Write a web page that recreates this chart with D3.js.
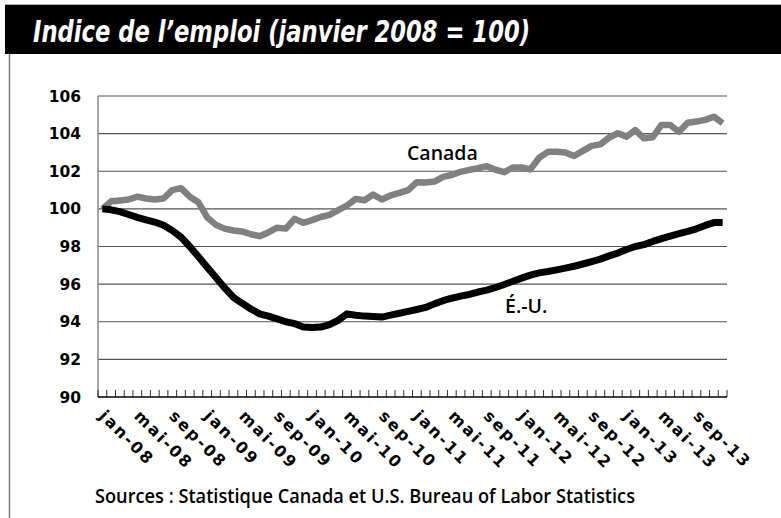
<!DOCTYPE html>
<html lang="fr">
<head>
  <meta charset="UTF-8">
  <title>Indice de l'emploi</title>
  <script src="https://d3js.org/d3.v7.min.js"></script>
  <style>
    body { margin: 0; background: #fff; }
    svg { display: block; }
    .ylab { font-family: "DejaVu Sans", sans-serif; font-weight: bold; font-size: 15.5px; }
    .xlab { font-family: "DejaVu Sans", sans-serif; font-weight: bold; font-size: 16px; letter-spacing: 2.2px; }
    .serie { font-family: "Open Sans", sans-serif; font-weight: 600; font-size: 19.5px; }
  </style>
</head>
<body>
  <svg width="781" height="518"></svg>

  <script>
    // mois de janvier 2008 à décembre 2013
    const moisNoms = ['jan', 'fév', 'mar', 'avr', 'mai', 'jun', 'jul', 'aoû', 'sep', 'oct', 'nov', 'déc'];
    const annees = ['08', '09', '10', '11', '12', '13'];
    const mois = annees.flatMap(a => moisNoms.map(m => m + '-' + a));

    const canada = [
      100.0, 100.4, 100.45, 100.5, 100.65, 100.55, 100.5, 100.55, 101.0, 101.1, 100.65, 100.35,
      99.55, 99.15, 98.95, 98.85, 98.8, 98.65, 98.55, 98.75, 99.0, 98.95, 99.47, 99.26,
      99.4, 99.57, 99.68, 99.93, 100.18, 100.53, 100.46, 100.76, 100.5, 100.72, 100.85, 101.0,
      101.42, 101.4, 101.45, 101.7, 101.8, 101.97, 102.07, 102.16, 102.27, 102.08, 101.95, 102.2,
      102.2, 102.1, 102.72, 103.03, 103.04, 103.0, 102.81, 103.08, 103.35, 103.43, 103.79, 104.02,
      103.84, 104.19, 103.75, 103.81, 104.46, 104.46, 104.1, 104.58, 104.64, 104.73, 104.9, 104.55
    ];

    const eu = [
      100.0, 99.95, 99.85, 99.7, 99.55, 99.42, 99.3, 99.13, 98.85, 98.5, 98.0, 97.45,
      96.9, 96.35, 95.8, 95.3, 94.98, 94.68, 94.42, 94.3, 94.15, 94.0, 93.9, 93.72,
      93.7, 93.72, 93.85, 94.08, 94.42, 94.35, 94.3, 94.28, 94.25, 94.35, 94.45, 94.55,
      94.65, 94.76, 94.95, 95.12, 95.25, 95.36, 95.45, 95.58, 95.68, 95.82, 95.98, 96.15,
      96.32, 96.48, 96.6, 96.67, 96.76, 96.85, 96.95, 97.07, 97.2, 97.33, 97.5, 97.65,
      97.84, 98.0, 98.1, 98.27, 98.42, 98.55, 98.68, 98.8, 98.94, 99.12, 99.27, 99.28
    ];

    const yTicks = [90, 92, 94, 96, 98, 100, 102, 104, 106];

    const svg = d3.select('svg');

    // cadre et bandeau du titre
    svg.append('line')
      .attr('x1', 9.5).attr('x2', 9.5).attr('y1', 53).attr('y2', 518)
      .attr('stroke', '#777').attr('stroke-width', 1.5);
    svg.append('line')
      .attr('x1', 5).attr('x2', 781).attr('y1', 4.5).attr('y2', 4.5)
      .attr('stroke', '#aaa').attr('stroke-width', 1);
    svg.append('rect')
      .attr('x', 5).attr('y', 5).attr('width', 776).attr('height', 49)
      .attr('fill', '#000');
    svg.append('text')
      .attr('x', 33).attr('y', 42)
      .attr('fill', '#fff')
      .attr('font-family', '"Liberation Sans Narrow", "DejaVu Sans Condensed", sans-serif')
      .attr('font-weight', 'bold').attr('font-style', 'italic').attr('font-size', 31)
      .attr('textLength', 497).attr('lengthAdjust', 'spacingAndGlyphs')
      .text('Indice de l\u2019emploi (janvier 2008 = 100)');

    // échelles : une bande par mois, ticks entre les catégories
    const x = d3.scaleLinear().domain([0, mois.length]).range([98, 727]);
    const y = d3.scaleLinear().domain([90, 106]).range([397, 96]);

    // quadrillage
    svg.append('g')
      .selectAll('line')
      .data(yTicks.filter(v => v > 90))
      .join('line')
      .attr('x1', x(0)).attr('x2', x(mois.length))
      .attr('y1', d => y(d)).attr('y2', d => y(d))
      .attr('stroke', '#555').attr('stroke-width', 1.2);

    // axe vertical
    svg.append('line')
      .attr('x1', x(0)).attr('x2', x(0)).attr('y1', y(106)).attr('y2', y(90))
      .attr('stroke', '#888').attr('stroke-width', 1.5);

    svg.append('g')
      .selectAll('text')
      .data(yTicks)
      .join('text')
      .attr('class', 'ylab')
      .attr('x', 81)
      .attr('y', d => y(d) + 5.5)
      .attr('text-anchor', 'end')
      .text(d => d);

    // axe horizontal avec ticks vers le haut
    svg.append('g')
      .selectAll('line')
      .data(d3.range(mois.length + 1))
      .join('line')
      .attr('x1', d => x(d)).attr('x2', d => x(d))
      .attr('y1', y(90)).attr('y2', y(90) - 7)
      .attr('stroke', '#333').attr('stroke-width', 1);
    svg.append('line')
      .attr('x1', x(0)).attr('x2', x(mois.length)).attr('y1', y(90)).attr('y2', y(90))
      .attr('stroke', '#000').attr('stroke-width', 1.5);

    svg.append('g')
      .selectAll('text')
      .data(mois.map((m, i) => ({ m, i })).filter(d => d.i % 4 === 0))
      .join('text')
      .attr('class', 'xlab')
      .attr('transform', d => `translate(${x(d.i + 0.5) - 4},417) rotate(45)`)
      .text(d => d.m);

    // séries
    const line = d3.line()
      .x((d, i) => x(i + 0.5))
      .y(d => y(d));

    svg.append('path')
      .datum(canada)
      .attr('d', line)
      .attr('fill', 'none')
      .attr('stroke', '#808080')
      .attr('stroke-width', 6.5)
      .attr('stroke-linejoin', 'round');

    svg.append('path')
      .datum(eu)
      .attr('d', line)
      .attr('fill', 'none')
      .attr('stroke', '#000')
      .attr('stroke-width', 7)
      .attr('stroke-linejoin', 'round');

    svg.append('text').attr('class', 'serie')
      .attr('x', 407).attr('y', 160).text('Canada');
    svg.append('text').attr('class', 'serie')
      .attr('x', 505).attr('y', 313).text('É.-U.');

    svg.append('text')
      .attr('x', 95).attr('y', 503)
      .attr('font-family', '"Open Sans", sans-serif')
      .attr('font-weight', 600).attr('font-size', 19)
      .attr('textLength', 540).attr('lengthAdjust', 'spacingAndGlyphs')
      .text('Sources : Statistique Canada et U.S. Bureau of Labor Statistics');
  </script>
</body>
</html>
